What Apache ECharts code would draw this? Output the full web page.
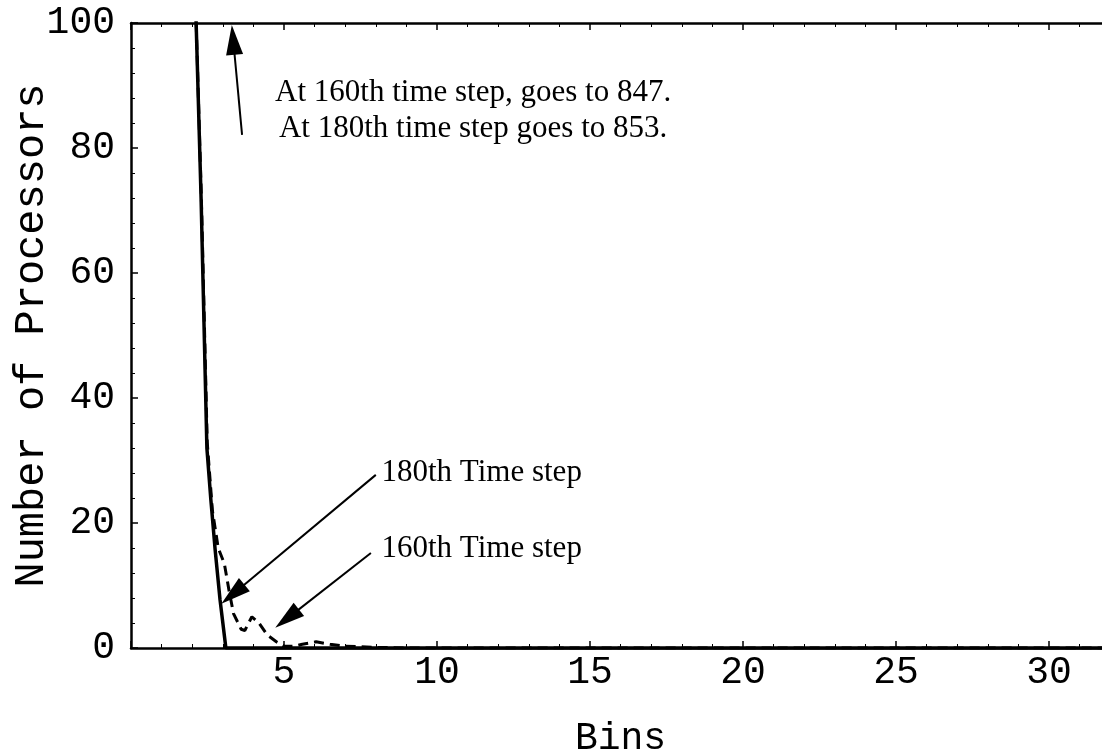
<!DOCTYPE html>
<html>
<head>
<meta charset="utf-8">
<style>
  html, body { margin: 0; padding: 0; background: #fff; }
  #chart { width: 1102px; height: 753px; }
</style>
<script src="https://cdn.jsdelivr.net/npm/echarts@6/dist/echarts.min.js"></script>
</head>
<body>
<div id="chart"></div>
<script>
// [bin, number of processors]
const step180 = [[2.1, 105], [2.29, 72], [2.48, 32], [2.61, 23.7], [2.75, 15.7], [2.91, 7.7], [3.1, 0], [35, 0]];
const step160 = [[2.1, 105], [2.3, 72], [2.49, 33], [2.66, 22], [2.85, 16], [3.05, 13.5], [3.2, 9.3],
  [3.35, 5.5], [3.6, 3], [3.72, 2.8], [3.95, 5], [4.18, 4], [4.45, 2.1], [4.75, 1], [5.0, 0.3],
  [5.35, 0.3], [5.6, 0.6], [6.05, 1.0], [6.5, 0.6], [7.0, 0.3], [8, 0.1], [9, 0], [35, 0]];

// annotation arrows [from, to] in data units
const arrowFrom = [[3.63, 82.1], [8.0, 27.7], [7.84, 15.2]];
const arrowTo = [[3.34, 97.3], [3.33, 8.6], [5.1, 4.7]];

const noteText = ['At 160th time step, goes to 847.\nAt 180th time step goes to 853.', '180th Time step', '160th Time step'];
const notePos = [[11.18, 85.9], [8.17, 28.0], [8.17, 15.84]];

const mono = 'Liberation Mono';
const serif = 'Liberation Serif';

const chart = echarts.init(document.getElementById('chart'), null, {renderer: 'canvas'});

const frameAxis = (extra) => Object.assign({
  type: 'value',
  axisLine: {lineStyle: {color: '#000', width: 2.5}},
  axisTick: {inside: true, length: 7, lineStyle: {color: '#000', width: 1.5}},
  minorTick: {show: true, splitNumber: 5, length: 4, lineStyle: {color: '#000', width: 1}},
  splitLine: {show: false},
  minorSplitLine: {show: false}
}, extra);

const option = {
  animation: false,
  backgroundColor: '#fff',
  grid: {left: 131, top: 23, width: 1071, height: 625, outerBoundsMode: 'none'},
  xAxis: [
    frameAxis({
      min: 0, max: 35, interval: 5,
      name: 'Bins', nameLocation: 'middle', nameGap: 72, nameMoveOverlap: false,
      nameTextStyle: {fontFamily: mono, fontSize: 38, color: '#000', padding: [0, 92, 0, 0]},
      axisLabel: {fontFamily: mono, fontSize: 38, color: '#000', margin: 6,
        formatter: v => (v === 0 ? '' : String(v))}
    }),
    frameAxis({
      position: 'top', min: 0, max: 35, interval: 5,
      axisLabel: {show: false}
    })
  ],
  yAxis: frameAxis({
    min: 0, max: 100, interval: 20,
    name: 'Number of Processors', nameLocation: 'middle', nameGap: 78, nameMoveOverlap: false,
    nameTextStyle: {fontFamily: mono, fontSize: 42, color: '#000'},
    axisLabel: {fontFamily: mono, fontSize: 38, color: '#000', margin: 16}
  }),
  series: [
    {
      name: '180th Time step',
      type: 'line',
      data: step180,
      showSymbol: false,
      lineStyle: {color: '#000', width: 3.5},
      markPoint: {
        silent: true,
        symbol: 'rect',
        symbolSize: 1,
        itemStyle: {color: 'rgba(0,0,0,0)'},
        label: {show: true, position: 'right', distance: 0, fontFamily: serif, fontSize: 31, color: '#000',
          formatter: p => p.name},
        data: noteText.map((t, i) => i === 0
          ? {name: t, coord: notePos[i], label: {position: 'inside', align: 'center', lineHeight: 36}}
          : {name: t, coord: notePos[i]})
      }
    },
    {
      name: '160th Time step',
      type: 'line',
      data: step160,
      showSymbol: false,
      lineStyle: {color: '#000', width: 3, type: [10, 6]},
      markLine: {
        silent: true,
        symbol: ['none', 'triangle'],
        lineStyle: {color: '#000', width: 2, type: 'solid'},
        itemStyle: {color: '#000'},
        label: {show: false},
        data: arrowFrom.map((f, i) => [
          {coord: f, symbol: 'none'},
          {coord: arrowTo[i], symbol: 'triangle', symbolSize: [17, 30]}
        ])
      }
    }
  ]
};

chart.setOption(option);
</script>
</body>
</html>
